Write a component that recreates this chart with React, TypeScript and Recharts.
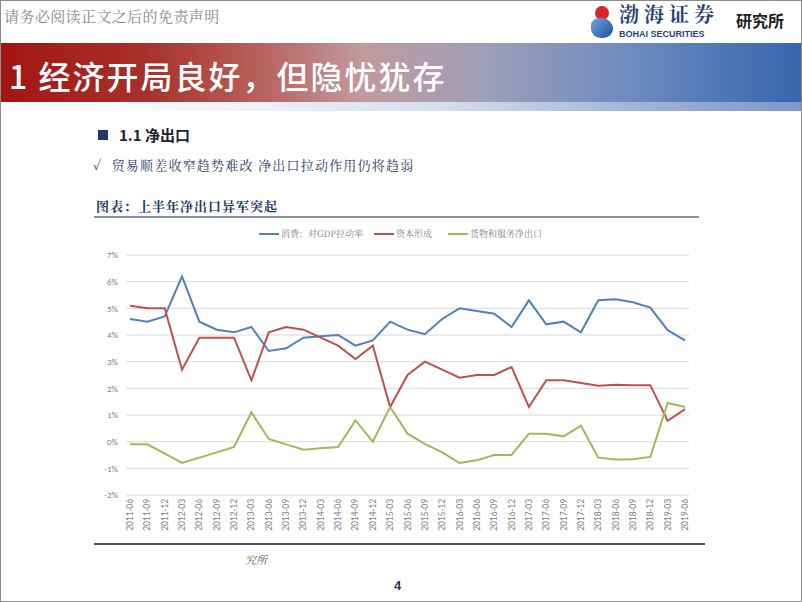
import { LineChart, Line, XAxis, YAxis, CartesianGrid } from "recharts";

const quarters = [
  "2011-06", "2011-09", "2011-12", "2012-03", "2012-06", "2012-09", "2012-12",
  "2013-03", "2013-06", "2013-09", "2013-12", "2014-03", "2014-06", "2014-09",
  "2014-12", "2015-03", "2015-06", "2015-09", "2015-12", "2016-03", "2016-06",
  "2016-09", "2016-12", "2017-03", "2017-06", "2017-09", "2017-12", "2018-03",
  "2018-06", "2018-09", "2018-12", "2019-03", "2019-06",
];

// 消费：对GDP拉动率
const consumption = [
  4.6, 4.5, 4.7, 6.2, 4.5, 4.2, 4.1, 4.3, 3.4, 3.5, 3.9, 3.95, 4.0, 3.6, 3.8,
  4.5, 4.2, 4.03, 4.6, 5.0, 4.9, 4.8, 4.3, 5.3, 4.4, 4.5, 4.1, 5.3, 5.34, 5.23,
  5.03, 4.18, 3.8,
];

// 资本形成
const capital = [
  5.1, 5.0, 5.0, 2.7, 3.9, 3.9, 3.9, 2.3, 4.1, 4.3, 4.2, 3.9, 3.6, 3.1, 3.6,
  1.3, 2.5, 3.0, 2.7, 2.4, 2.5, 2.5, 2.8, 1.3, 2.3, 2.3, 2.2, 2.1, 2.13, 2.12,
  2.12, 0.78, 1.22,
];

// 货物和服务净出口
const netExports = [
  -0.1, -0.1, -0.45, -0.8, -0.6, -0.4, -0.2, 1.1, 0.1, -0.1, -0.3, -0.25, -0.2,
  0.8, 0.0, 1.3, 0.3, -0.08, -0.4, -0.8, -0.7, -0.5, -0.5, 0.3, 0.3, 0.2, 0.6,
  -0.6, -0.67, -0.66, -0.57, 1.45, 1.3,
];

const yTicks = [-2, -1, 0, 1, 2, 3, 4, 5, 6, 7];

const seriesNames = ["消费：对GDP拉动率", "资本形成", "货物和服务净出口"];
const seriesColors = ["#4F81BD", "#C0504D", "#9BBB59"];

const chartData = quarters.map((q, i) => ({
  q,
  consumption: consumption[i],
  capital: capital[i],
  netExports: netExports[i],
}));

const navy = "#1f3864";
const kai = "'AR PL UKai CN', 'Noto Serif CJK SC', 'Noto Sans CJK SC', serif";
const hei = "'Noto Sans CJK SC', sans-serif";

// eslint-disable-next-line @typescript-eslint/no-explicit-any
const XTick = (props: any) => {
  const { x, y, payload } = props;
  return (
    <g transform={`translate(${x},${y})`}>
      <text
        transform="rotate(-90)"
        textAnchor="end"
        dy={3}
        fontSize={9.5}
        fill="#7f7f7f"
        fontFamily="Calibri, 'Liberation Sans', Arial, sans-serif"
      >
        {payload.value}
      </text>
    </g>
  );
};

export default function App() {
  const keys = ["consumption", "capital", "netExports"];
  return (
    <div
      style={{
        position: "absolute",
        left: 0,
        top: 0,
        width: 802,
        height: 602,
        boxSizing: "border-box",
        border: "1px solid #8c8c8c",
        background: "#fff",
        overflow: "hidden",
        fontFamily: hei,
      }}
    >
      {/* header */}
      <div
        style={{
          position: "absolute",
          left: 3,
          top: 4,
          fontSize: 15,
          color: "#8a8a8a",
          fontFamily: kai,
          whiteSpace: "nowrap",
          letterSpacing: 0.4,
        }}
      >
        请务必阅读正文之后的免责声明
      </div>

      {/* logo */}
      <div style={{ position: "absolute", left: 590, top: 5, width: 24, height: 32 }}>
        <div
          style={{
            position: "absolute",
            left: 4,
            top: 0,
            width: 14,
            height: 14,
            borderRadius: "50%",
            background: "#d8262c",
          }}
        />
        <div
          style={{
            position: "absolute",
            left: 0,
            top: 12,
            width: 22,
            height: 20,
            borderRadius: "40% 60% 50% 50%",
            background: "linear-gradient(135deg,#6fa8dc,#1f4e9c)",
          }}
        />
      </div>
      <div
        style={{
          position: "absolute",
          left: 618,
          top: 2,
          fontSize: 20,
          lineHeight: "22px",
          fontWeight: 700,
          color: "#2a3f7a",
          fontFamily: "'Noto Serif CJK SC', serif",
          letterSpacing: 5,
          whiteSpace: "nowrap",
        }}
      >
        渤海证券
      </div>
      <div
        style={{
          position: "absolute",
          left: 618,
          top: 29,
          fontSize: 9,
          lineHeight: "9px",
          fontWeight: 700,
          color: "#2a3f7a",
          fontFamily: "'Liberation Sans', Arial, sans-serif",
          whiteSpace: "nowrap",
        }}
      >
        BOHAI SECURITIES
      </div>
      <div
        style={{
          position: "absolute",
          left: 735,
          top: 8,
          fontSize: 16,
          lineHeight: "22px",
          fontWeight: 700,
          color: "#222",
          whiteSpace: "nowrap",
        }}
      >
        研究所
      </div>

      {/* banner */}
      <div
        style={{
          position: "absolute",
          left: 0,
          top: 42,
          width: 802,
          height: 59,
          background:
            "linear-gradient(90deg,#a11512 0%,#a8302a 18%,#b8605c 32%,#c19a9e 45%,#9f9fb8 60%,#6f8cc0 78%,#3565ad 100%)",
        }}
      />
      <div
        style={{
          position: "absolute",
          left: 0,
          top: 101,
          width: 802,
          height: 9,
          background:
            "linear-gradient(90deg,#ffffff 0%,#f4f6fa 25%,#d5deed 55%,#9fb3d8 80%,#7d98cc 100%)",
        }}
      />
      <div
        style={{
          position: "absolute",
          left: 8,
          top: 53,
          fontSize: 32,
          color: "#fff",
          fontWeight: 500,
          whiteSpace: "nowrap",
          lineHeight: "42px",
          letterSpacing: 2,
        }}
      >
        1 经济开局良好，但隐忧犹存
      </div>

      {/* section */}
      <div
        style={{
          position: "absolute",
          left: 97,
          top: 129,
          width: 10,
          height: 10,
          background: navy,
        }}
      />
      <div
        style={{
          position: "absolute",
          left: 118,
          top: 124,
          fontSize: 15,
          fontWeight: 700,
          color: "#1a2233",
          whiteSpace: "nowrap",
          lineHeight: "20px",
        }}
      >
        1.1 净出口
      </div>
      <div
        style={{
          position: "absolute",
          left: 92,
          top: 155,
          fontSize: 13,
          color: navy,
          fontFamily: kai,
          whiteSpace: "nowrap",
          lineHeight: "18px",
          letterSpacing: 1.2,
        }}
      >
        ✓&nbsp;&nbsp;贸易顺差收窄趋势难改 净出口拉动作用仍将趋弱
      </div>

      {/* chart title */}
      <div
        style={{
          position: "absolute",
          left: 95,
          top: 196,
          fontSize: 13,
          fontWeight: 700,
          color: navy,
          fontFamily: kai,
          whiteSpace: "nowrap",
          lineHeight: "18px",
          letterSpacing: 1,
        }}
      >
        图表：上半年净出口异军突起
      </div>
      <div
        style={{
          position: "absolute",
          left: 93,
          top: 215,
          width: 605,
          height: 2,
          background: "#8093a8",
        }}
      />

      {/* legend */}
      {seriesNames.map((name, i) => (
        <div
          key={name}
          style={{
            position: "absolute",
            left: [258, 373, 447][i],
            top: 227,
            display: "flex",
            alignItems: "center",
            whiteSpace: "nowrap",
            fontSize: 9,
            color: "#7f7f7f",
            fontFamily: kai,
            lineHeight: "12px",
          }}
        >
          <span
            style={{
              display: "inline-block",
              width: 20,
              height: 2,
              background: seriesColors[i],
              marginRight: 2,
            }}
          />
          {name}
        </div>
      ))}

      {/* chart */}
      <div style={{ position: "absolute", left: 60, top: 240 }}>
        <LineChart
          width={650}
          height={300}
          data={chartData}
          margin={{ top: 14, right: 22, bottom: 6, left: 25 }}
        >
          <CartesianGrid vertical={false} stroke="#d9d9d9" />
          <XAxis
            dataKey="q"
            interval={0}
            tick={<XTick />}
            tickLine={false}
            axisLine={false}
            tickSize={0}
            tickMargin={4}
            height={40}
            padding={{ left: 4, right: 4 }}
          />
          <YAxis
            width={40}
            domain={[-2, 7]}
            ticks={yTicks}
            interval={0}
            tickFormatter={(v) => `${v}%`}
            tick={{
              fill: "#7f7f7f",
              fontSize: 9,
              fontFamily: "Calibri, 'Liberation Sans', Arial, sans-serif",
            }}
            axisLine={false}
            tickLine={false}
            tickMargin={2}
          />
          {keys.map((k, i) => (
            <Line
              key={k}
              type="linear"
              dataKey={k}
              name={seriesNames[i]}
              stroke={seriesColors[i]}
              strokeWidth={2}
              dot={false}
              isAnimationActive={false}
            />
          ))}
        </LineChart>
      </div>

      {/* footer */}
      <div
        style={{
          position: "absolute",
          left: 93,
          top: 542,
          width: 611,
          height: 2,
          background: "#44546a",
        }}
      />
      <div
        style={{
          position: "absolute",
          left: 244,
          top: 550,
          fontSize: 11,
          fontStyle: "italic",
          color: "#555",
          fontFamily: kai,
          whiteSpace: "nowrap",
        }}
      >
        究所
      </div>
      <div
        style={{
          position: "absolute",
          left: 393,
          top: 577,
          fontSize: 13,
          fontWeight: 700,
          color: navy,
          fontFamily: "'Liberation Sans', Arial, sans-serif",
        }}
      >
        4
      </div>
    </div>
  );
}
